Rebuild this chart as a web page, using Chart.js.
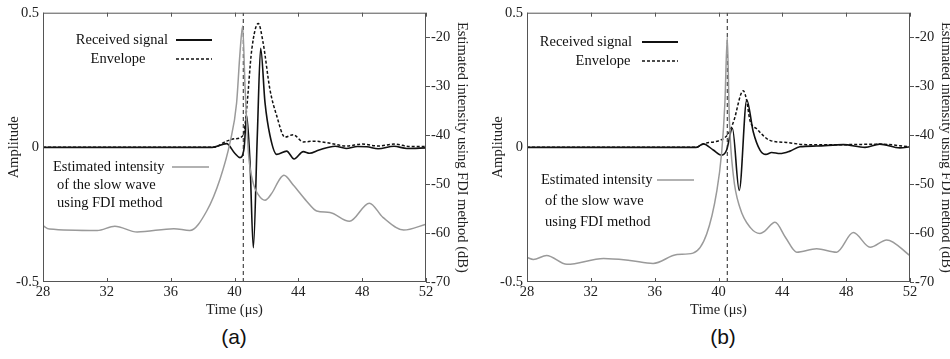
<!DOCTYPE html>
<html>
<head>
<meta charset="utf-8">
<script src="https://cdn.jsdelivr.net/npm/chart.js@4.4.1/dist/chart.umd.min.js"></script>
<style>
  html, body { margin: 0; padding: 0; background: #fff; overflow: hidden; }
  body { width: 950px; height: 359px; position: relative; }
  .panel { position: absolute; top: 0; width: 475px; height: 320px; }
  .caption { position: absolute; top: 325px; width: 60px; text-align: center;
    font: 21px "Liberation Sans", Arial, sans-serif; color: #111; }
</style>
</head>
<body>
<div class="panel" style="left:0"><canvas id="chartA" width="475" height="320"></canvas></div>
<div class="panel" style="left:484px"><canvas id="chartB" width="475" height="320"></canvas></div>
<div class="caption" style="left:204px">(a)</div>
<div class="caption" style="left:693px">(b)</div>
<script>
// ---- panel (a) ----
const recvTimeA = [28, 38.6, 39.5, 40.03, 40.34, 40.6, 40.76, 40.97, 41.18, 41.43, 41.64, 41.91, 42.22, 42.64, 43.27, 43.73, 44.31, 44.7, 45.3, 46.3, 47, 47.7, 48.3, 49, 50, 50.8, 52];
const recvA = [0, 0, 0.014, -0.023, -0.038, -0.004, 0.118, -0.053, -0.373, 0.045, 0.368, 0.167, 0.045, -0.026, -0.014, -0.043, -0.016, -0.022, -0.01, 0.004, -0.004, 0.003, 0.002, -0.005, 0.004, -0.004, -0.002];

const envTimeA = [28, 38.67, 39.5, 40.03, 40.55, 40.76, 41.08, 41.49, 41.8, 42.22, 42.64, 43.16, 43.68, 44.31, 45, 46, 47, 48, 49, 50, 51, 52];
const envA = [0, 0, 0.023, 0.032, 0.045, 0.142, 0.362, 0.46, 0.386, 0.215, 0.118, 0.038, 0.047, 0.02, 0.023, 0.015, 0.005, 0.012, 0.005, 0.012, 0.003, 0.003];

const fdiTimeA = [28, 28.4, 31.4, 32.5, 33.9, 36.2, 37.2, 38.26, 39.1, 39.72, 40.13, 40.34, 40.51, 40.66, 40.87, 41.18, 41.5, 41.91, 42.33, 42.85, 43.1, 43.68, 44.52, 45.15, 45.98, 47.2, 48.45, 49.3, 50.6, 52];
const fdiA = [-58.5, -59.2, -59.5, -58.6, -59.8, -59.1, -59.5, -55.5, -48.9, -41.5, -33.5, -23.4, -17.7, -30.1, -43.5, -49.9, -52.2, -53.3, -51.9, -48.9, -48.2, -50.2, -53.5, -55.5, -55.8, -57.6, -53.9, -56.8, -59.4, -58.2];

// ---- panel (b) ----
const recvTimeB = [28, 38.6, 39.05, 39.67, 40.2, 40.51, 40.87, 41.3, 41.77, 42.18, 42.6, 42.97, 43.33, 43.85, 44.48, 45.1, 46.15, 47.82, 49.18, 50.1, 51.37, 52];
const recvB = [0, 0, 0.013, -0.01, -0.029, -0.01, 0.071, -0.16, 0.176, 0.057, -0.01, -0.026, -0.019, -0.023, -0.014, 0.002, 0.005, 0.01, 0, 0.012, -0.002, 0.002];

const envTimeB = [28, 38.6, 39.05, 40.51, 40.93, 41.55, 41.77, 41.97, 42.39, 43.22, 44.27, 45.52, 47.82, 50.1, 52];
const envB = [0, 0, 0.013, 0.042, 0.093, 0.21, 0.173, 0.1, 0.069, 0.026, 0.018, 0.01, 0.01, 0.012, 0.002];

const fdiTimeB = [28, 28.4, 29.23, 30.5, 32.8, 34.45, 35.9, 37.4, 38.4, 39.26, 39.89, 40.2, 40.4, 40.55, 40.68, 40.93, 41.35, 42.0, 42.6, 42.9, 43.54, 44.2, 44.9, 46.15, 47.4, 48.45, 49.5, 50.54, 52];
const fdiB = [-65.0, -65.4, -64.6, -66.4, -65.2, -65.6, -66.2, -64.4, -64.1, -60.2, -51.5, -43.5, -33.5, -20.0, -36.8, -48.2, -54.9, -58.9, -60.1, -59.6, -57.8, -60.9, -63.9, -63.2, -63.9, -59.9, -62.9, -61.4, -64.6];

const markerTime = 40.55;
const xTicks = [28, 32, 36, 40, 44, 48, 52];
const dbTicks = [-70, -60, -50, -40, -30, -20];

const serif = "'Liberation Serif', 'Times New Roman', serif";

function pts(xs, ys) {
  return xs.map((x, i) => ({ x, y: ys[i] }));
}

// frame, inward x ticks, and the in-plot legend text
const decorations = {
  id: "decorations",
  afterDraw(chart, args, opts) {
    const { ctx, chartArea: a, scales } = chart;
    ctx.save();
    ctx.strokeStyle = "#555";
    ctx.lineWidth = 1;
    ctx.strokeRect(a.left + 0.5, a.top + 0.5, a.right - a.left - 1, a.bottom - a.top - 1);
    scales.x.ticks.forEach((t) => {
      const px = Math.round(scales.x.getPixelForValue(t.value)) + 0.5;
      ctx.beginPath();
      ctx.moveTo(px, a.top); ctx.lineTo(px, a.top + 4);
      ctx.moveTo(px, a.bottom); ctx.lineTo(px, a.bottom - 4);
      ctx.stroke();
    });

    const L = opts.layout;
    ctx.font = "14.5px " + serif;
    ctx.fillStyle = "#111";
    ctx.textBaseline = "middle";
    ctx.textAlign = "right";
    ctx.fillText("Received signal", a.left + L.recvTextEnd, L.recvY);
    ctx.textAlign = "center";
    ctx.fillText("Envelope", a.left + L.envTextMid, L.envY);
    ctx.textAlign = "left";
    ctx.fillText("Estimated intensity", a.left + L.fdiText, L.fdiY);
    ctx.fillText("of the slow wave", a.left + L.fdiText + 4, L.fdiY + L.fdiGap);
    ctx.fillText("using FDI method", a.left + L.fdiText + 4, L.fdiY + 2 * L.fdiGap);

    ctx.lineWidth = 1.8;
    ctx.strokeStyle = "#111";
    ctx.beginPath();
    ctx.moveTo(a.left + L.lineStart, L.recvY); ctx.lineTo(a.left + L.lineStart + 36, L.recvY);
    ctx.stroke();
    ctx.lineWidth = 1.5;
    ctx.setLineDash([3, 2]);
    ctx.beginPath();
    ctx.moveTo(a.left + L.lineStart, L.envY); ctx.lineTo(a.left + L.lineStart + 36, L.envY);
    ctx.stroke();
    ctx.setLineDash([]);
    ctx.strokeStyle = "#999";
    ctx.beginPath();
    ctx.moveTo(a.left + L.fdiLine, L.fdiY); ctx.lineTo(a.left + L.fdiLine + 37, L.fdiY);
    ctx.stroke();
    ctx.restore();
  },
};

function makePanel(id, recv, env, fdi, layout) {
  new Chart(document.getElementById(id), {
    type: "line",
    data: {
      datasets: [
        {
          label: "Estimated intensity",
          data: fdi,
          yAxisID: "y2",
          borderColor: "#9a9a9a",
          borderWidth: 1.5,
          cubicInterpolationMode: "monotone",
        },
        {
          label: "Marker",
          data: [{ x: markerTime, y: -0.5 }, { x: markerTime, y: 0.5 }],
          borderColor: "#222",
          borderWidth: 1,
          borderDash: [4, 3],
        },
        {
          label: "Envelope",
          data: env,
          borderColor: "#111",
          borderWidth: 1.5,
          borderDash: [3, 2],
          cubicInterpolationMode: "monotone",
        },
        {
          label: "Received signal",
          data: recv,
          borderColor: "#111",
          borderWidth: 1.6,
          cubicInterpolationMode: "monotone",
        },
      ],
    },
    options: {
      responsive: false,
      animation: false,
      parsing: false,
      elements: { point: { radius: 0 } },
      layout: { padding: { top: 9, left: 0, right: 0, bottom: 0 } },
      plugins: {
        legend: { display: false },
        tooltip: { enabled: false },
        decorations: { layout },
      },
      scales: {
        x: {
          type: "linear",
          min: 28,
          max: 52,
          afterBuildTicks: (s) => { s.ticks = xTicks.map((v) => ({ value: v })); },
          afterFit: (s) => { s.height = 38; },
          ticks: { font: { family: serif, size: 14.5 }, color: "#222", padding: 1, maxRotation: 0 },
          grid: { drawOnChartArea: false, drawTicks: false },
          border: { display: false },
          title: { display: true, text: "Time (μs)", font: { family: serif, size: 14.5 }, color: "#222", padding: { top: 0, bottom: 1 } },
        },
        y: {
          position: "left",
          min: -0.5,
          max: 0.5,
          afterFit: (s) => { s.width = 43; },
          ticks: { stepSize: 0.5, font: { family: serif, size: 14.5 }, color: "#222", padding: 4 },
          grid: { drawOnChartArea: false, drawTicks: false },
          border: { display: false },
          title: { display: true, text: "Amplitude", font: { family: serif, size: 14.5 }, color: "#222", padding: { top: 5, bottom: 0 } },
        },
        y2: {
          position: "right",
          min: -70,
          max: -15,
          afterBuildTicks: (s) => { s.ticks = dbTicks.map((v) => ({ value: v })); },
          afterFit: (s) => { s.width = 49; },
          ticks: { font: { family: serif, size: 14.5 }, color: "#222", padding: 1 },
          grid: { drawOnChartArea: false, drawTicks: true, tickLength: 4, color: "#555" },
          border: { display: false },
          title: { display: true, text: "Estimated intensity using FDI method (dB)", font: { family: serif, size: 14.5 }, color: "#222", padding: 4 },
        },
      },
    },
    plugins: [decorations],
  });
}

makePanel("chartA", pts(recvTimeA, recvA), pts(envTimeA, envA), pts(fdiTimeA, fdiA), {
  recvTextEnd: 125, recvY: 40, envTextMid: 75, envY: 59, lineStart: 133,
  fdiText: 10, fdiY: 167, fdiGap: 18, fdiLine: 129,
});
makePanel("chartB", pts(recvTimeB, recvB), pts(envTimeB, envB), pts(fdiTimeB, fdiB), {
  recvTextEnd: 105, recvY: 42, envTextMid: 76, envY: 61, lineStart: 115,
  fdiText: 14, fdiY: 180, fdiGap: 21, fdiLine: 130,
});
</script>
</body>
</html>
